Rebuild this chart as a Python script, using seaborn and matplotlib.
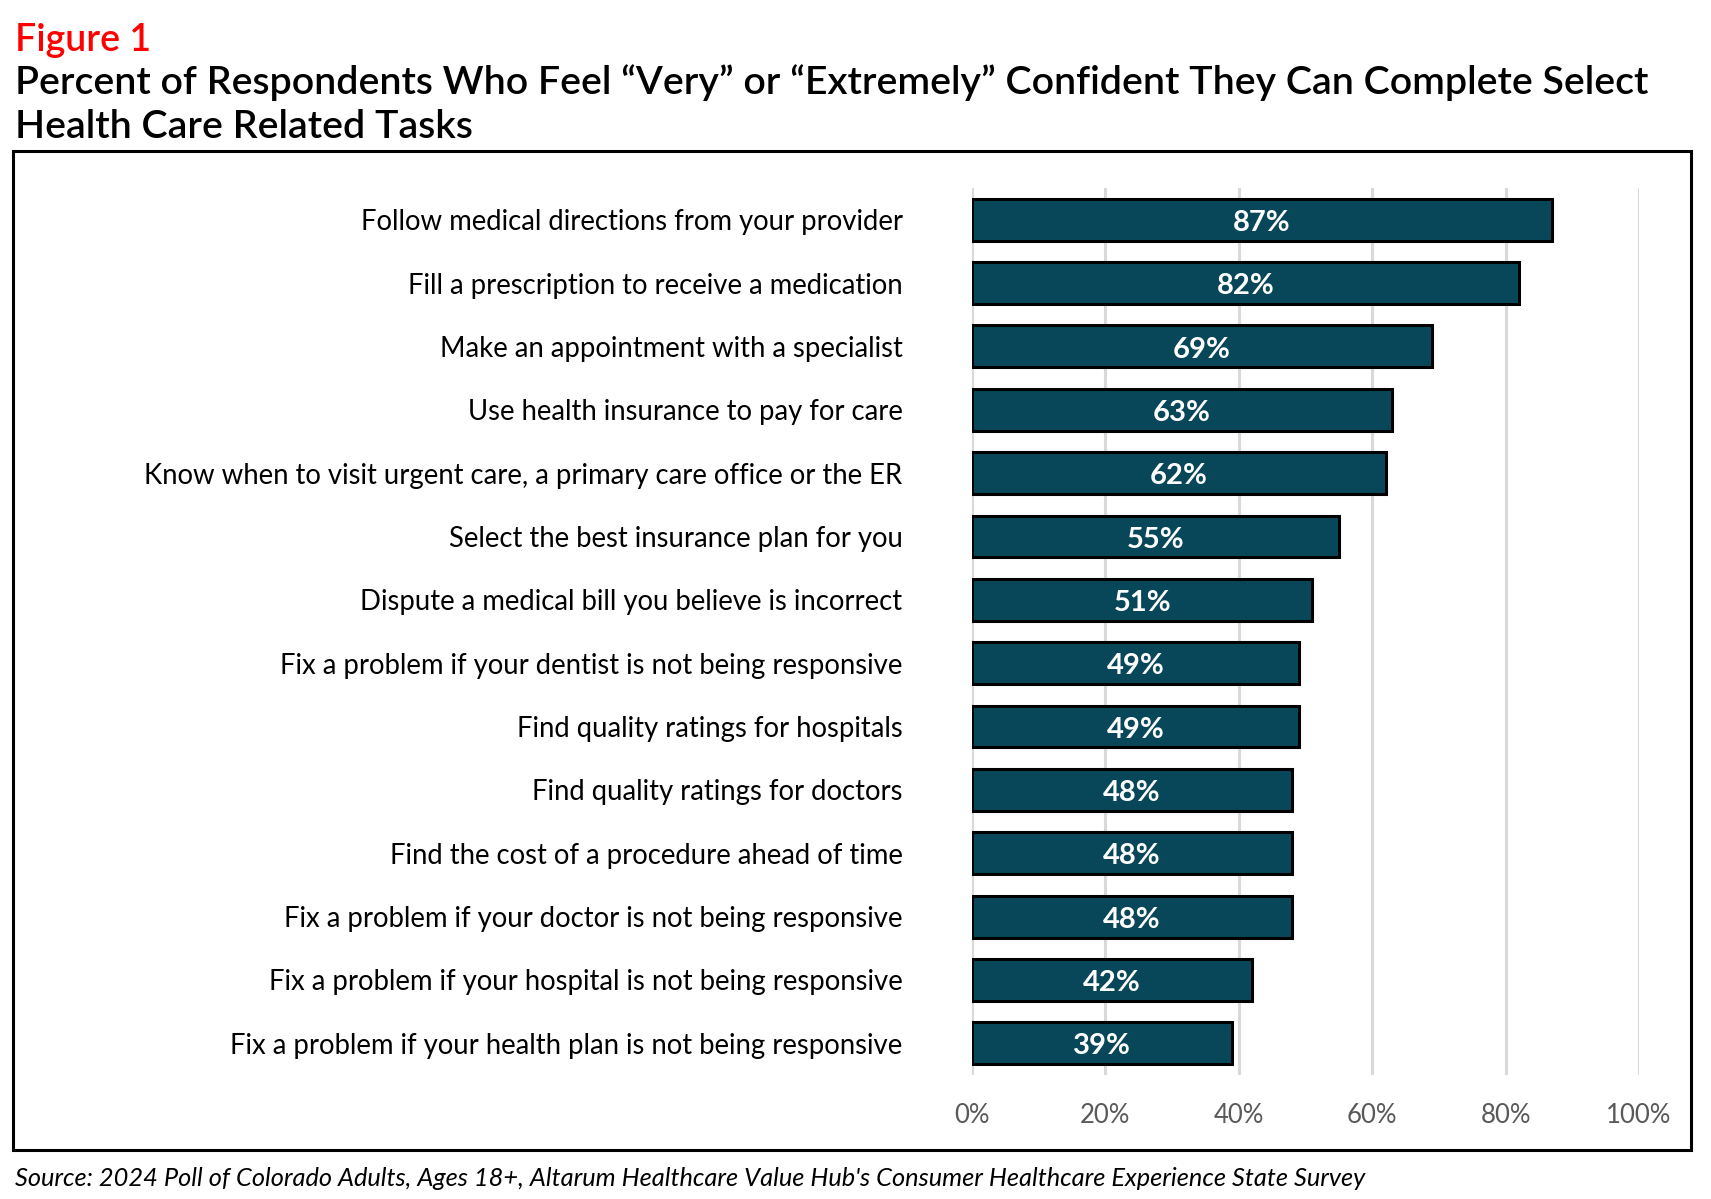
import matplotlib
matplotlib.use("Agg")
import matplotlib.pyplot as plt
import seaborn as sns
import pandas as pd
from matplotlib.patches import Rectangle

# data
tasks = [
    "Follow medical directions from your provider",
    "Fill a prescription to receive a medication",
    "Make an appointment with a specialist",
    "Use health insurance to pay for care",
    "Know when to visit urgent care, a primary care office or the ER",
    "Select the best insurance plan for you",
    "Dispute a medical bill you believe is incorrect",
    "Fix a problem if your dentist is not being responsive",
    "Find quality ratings for hospitals",
    "Find quality ratings for doctors",
    "Find the cost of a procedure ahead of time",
    "Fix a problem if your doctor is not being responsive",
    "Fix a problem if your hospital is not being responsive",
    "Fix a problem if your health plan is not being responsive",
]
percent = [87, 82, 69, 63, 62, 55, 51, 49, 49, 48, 48, 48, 42, 39]
x_ticks = [0, 20, 40, 60, 80, 100]

df = pd.DataFrame({"task": tasks, "pct": percent})

sns.set_theme(style="white")
plt.rcParams["font.family"] = ["Lato", "DejaVu Sans"]

W, H = 1711, 1199
fig = plt.figure(figsize=(W / 100, H / 100), dpi=100)
ax = fig.add_axes([972 / W, 1 - 1075 / H, 667 / W, 887 / H])

sns.barplot(data=df, x="pct", y="task", orient="h", color="#08475A",
            saturation=1, edgecolor="black", linewidth=2.2, width=0.66, ax=ax)

for i, v in enumerate(percent):
    ax.text(v / 2, i + 0.05, f"{v}%", ha="center", va="center", color="white",
            fontsize=21, fontweight="bold")

ax.set_xlim(0, 100)
ax.set_ylim(len(tasks) - 0.5, -0.5)
ax.set_xticks(x_ticks)
ax.set_xticklabels([f"{t}%" for t in x_ticks], color="#595959", fontsize=18.5)
ax.tick_params(axis="x", length=0, pad=20)
ax.tick_params(axis="y", length=0, pad=50, labelsize=19.8, labelcolor="black")
ax.set_xlabel("")
ax.set_ylabel("")
ax.grid(axis="x", color="#D9D9D9", linewidth=2.2)
ax.set_axisbelow(True)
for s in ax.spines.values():
    s.set_visible(False)

# outer frame around the chart
fig.patches.append(Rectangle((13 / W, 1 - 1150 / H), (1691 - 13) / W, (1150 - 151) / H,
                             transform=fig.transFigure, fill=False,
                             edgecolor="black", linewidth=2.2))

fig.text(15 / W, 1 - 40 / H, "Figure 1", color="#FF0000", fontsize=27,
         fontweight="semibold", va="center", ha="left")
fig.text(15 / W, 1 - 83 / H,
         "Percent of Respondents Who Feel \u201cVery\u201d or \u201cExtremely\u201d Confident They Can Complete Select",
         color="black", fontsize=28.3, fontweight="semibold", va="center", ha="left")
fig.text(15 / W, 1 - 127 / H, "Health Care Related Tasks", color="black",
         fontsize=28.3, fontweight="semibold", va="center", ha="left")
fig.text(15 / W, 1 - 1179 / H,
         "Source: 2024 Poll of Colorado Adults, Ages 18+, Altarum Healthcare Value Hub's Consumer Healthcare Experience State Survey",
         color="black", fontsize=18.3, style="italic", va="center", ha="left")

fig.savefig("out.png", dpi=100)
